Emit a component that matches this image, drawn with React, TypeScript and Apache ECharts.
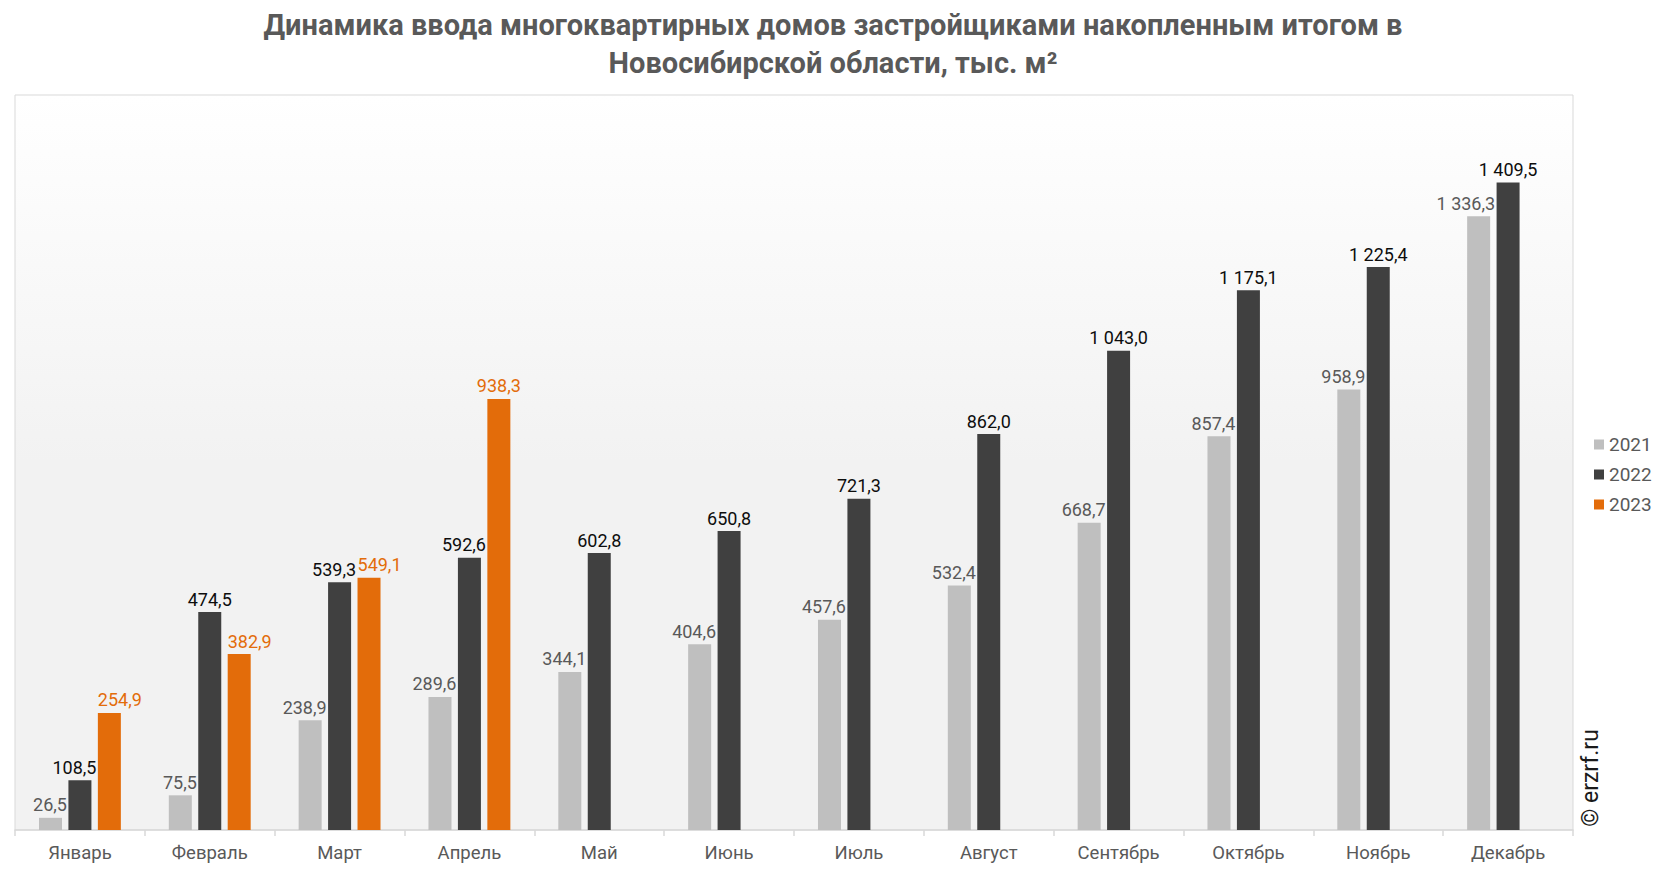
import React, { useEffect, useRef } from "react";
import * as echarts from "echarts";

const months = ["Январь", "Февраль", "Март", "Апрель", "Май", "Июнь", "Июль", "Август", "Сентябрь", "Октябрь", "Ноябрь", "Декабрь"];
const years = ["2021", "2022", "2023"];
const values2021 = [26.5, 75.5, 238.9, 289.6, 344.1, 404.6, 457.6, 532.4, 668.7, 857.4, 958.9, 1336.3];
const values2022 = [108.5, 474.5, 539.3, 592.6, 602.8, 650.8, 721.3, 862.0, 1043.0, 1175.1, 1225.4, 1409.5];
const values2023: (number | null)[] = [254.9, 382.9, 549.1, 938.3, null, null, null, null, null, null, null, null];

const colors = ["#bfbfbf", "#404040", "#e36c0a"];
const labelColors = ["#595959", "#0d0d0d", "#e36c0a"];

const fmt = (v: number) => {
  const s = v.toFixed(1);
  const [i, d] = s.split(".");
  return i.replace(/\B(?=(\d{3})+(?!\d))/g, " ") + "," + d;
};

// label placement: which labels sit flush right / left of their bar (as in the source)
const rightAligned2022 = new Set([0, 2, 3]);
const leftAligned2023 = new Set([0, 1, 2]);

export default function App() {
  const ref = useRef<HTMLDivElement>(null);
  useEffect(() => {
    if (!ref.current) return;
    const chart = echarts.init(ref.current, null, { renderer: "svg" });
    const labelBase = { show: true, fontFamily: "Roboto", fontSize: 18, formatter: (p: any) => fmt(p.value) };
    const rightLabel = { position: ["100%", -4], align: "right", verticalAlign: "bottom", offset: [5, 0] };
    const leftLabel = { position: [0, -4], align: "left", verticalAlign: "bottom", offset: [0, 0] };

    const d2021 = values2021.map((v) => ({ value: v, label: rightLabel }));
    const d2022 = values2022.map((v, i) => (rightAligned2022.has(i) ? { value: v, label: rightLabel } : { value: v }));
    const d2023 = values2023.map((v, i) => (leftAligned2023.has(i) ? { value: v, label: leftLabel } : { value: v }));
    const seriesData = [d2021, d2022, d2023];

    chart.setOption({
      animation: false,
      backgroundColor: "#ffffff",
      textStyle: { fontFamily: "Roboto" },
      title: {
        text: "Динамика ввода многоквартирных домов застройщиками накопленным итогом в\nНовосибирской области, тыс. м²",
        left: "center",
        top: 1,
        textStyle: { fontFamily: "Roboto", fontWeight: "bold", fontSize: 29, color: "#595959", lineHeight: 38 },
      },
      legend: {
        orient: "vertical",
        left: 1589,
        top: 430,
        itemWidth: 10,
        itemHeight: 10,
        itemGap: 11,
        icon: "rect",
        textStyle: { fontFamily: "Roboto", fontSize: 19, color: "#595959", padding: [0, 0, 0, 0] },
        data: years,
      },
      grid: {
        left: 15,
        right: 93,
        top: 95,
        bottom: 42,
        show: true,
        borderColor: "#d9d9d9",
        borderWidth: 1,
        backgroundColor: new echarts.graphic.LinearGradient(0, 0, 0, 1, [
          { offset: 0, color: "#ffffff" },
          { offset: 0.5, color: "#f2f2f2" },
          { offset: 1, color: "#f2f2f2" },
        ]),
      },
      xAxis: {
        type: "category",
        data: months,
        axisLine: { lineStyle: { color: "#d9d9d9", width: 1.5 } },
        axisTick: { show: true, length: 6, lineStyle: { color: "#d9d9d9", width: 1.5 } },
        axisLabel: { fontFamily: "Roboto", fontSize: 18.5, color: "#595959", margin: 13 },
      },
      yAxis: { type: "value", min: 0, max: 1600, show: false, splitLine: { show: false } },
      series: years.map((y, k) => ({
        name: y,
        type: "bar",
        barWidth: 23,
        barGap: "28%",
        itemStyle: { color: colors[k] },
        label: { ...labelBase, position: "top", distance: 4, color: labelColors[k] },
        data: seriesData[k],
      })),
      graphic: [
        {
          type: "text",
          x: 1590,
          y: 778,
          rotation: Math.PI / 2,
          style: {
            text: "© erzrf.ru",
            fontFamily: "Roboto",
            fontSize: 23,
            fill: "#1a1a1a",
            textAlign: "center",
            textVerticalAlign: "middle",
          },
        },
      ],
    });
    return () => chart.dispose();
  }, []);
  return <div ref={ref} style={{ position: "fixed", left: 0, top: 0, width: 1666, height: 872 }} />;
}
